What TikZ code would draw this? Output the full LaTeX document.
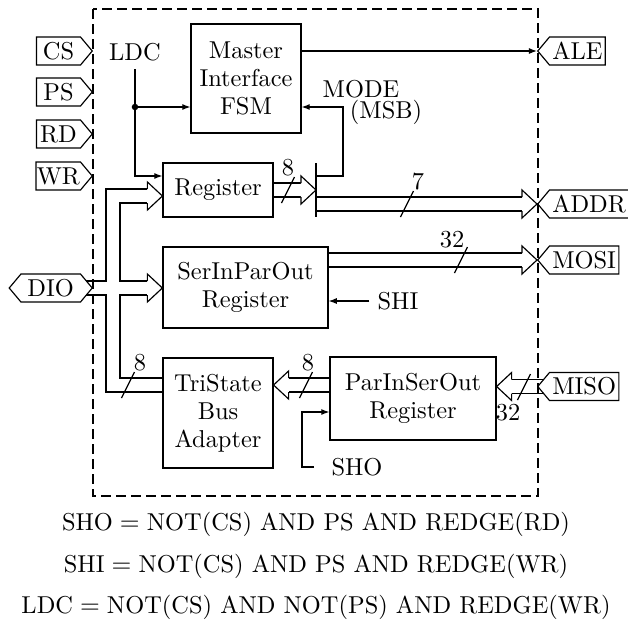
\documentclass[tikz,border=0pt]{standalone}
\usetikzlibrary{arrows.meta,shapes.symbols,backgrounds}

\tikzset{
  blk/.style={draw,fill=white,align=center,inner sep=1pt},
  intag/.style={draw,fill=white,signal,signal to=east,signal pointer angle=100,
    minimum height=12pt,minimum width=24pt,inner xsep=0.3pt,inner ysep=0pt,anchor=east},
  outtag/.style={intag,signal to=west,minimum width=0pt,inner xsep=1.2pt,anchor=west},
  modframe/.style={dash pattern=on 4.3pt off 2.15pt},
  bushead/.pic={\filldraw[fill=white] (-15,-7) -- (-15,-14) -- (0,0) -- (-15,14) -- (-15,7);}
}

\begin{document}
\begin{tikzpicture}[x=0.43pt,y=-0.43pt,line width=0.5pt,>={Latex[length=3.5pt,width=2.6pt]},
  font={\fontsize{10.5}{12}\selectfont}]
 \useasboundingbox (0,0) rectangle (628,622);
 % blocks
 \node[blk,minimum width=47.3pt,minimum height=46.9pt] (master) at (246,78.5) {Master\\Interface\\FSM};
 \node[blk,minimum width=47.3pt,minimum height=23.2pt] (reg) at (218,190) {Register};
 \node[blk,minimum width=71pt,minimum height=34.8pt] (sipo) at (245.5,287.5) {SerInParOut\\Register};
 \node[blk,minimum width=47.3pt,minimum height=47.3pt] (tsb) at (218,413) {TriState\\Bus\\Adapter};
 \node[blk,minimum width=71.4pt,minimum height=35.7pt] (piso) at (413,398.5) {ParInSerOut\\Register};
 % ports
 \node[intag] (cs) at (93,51) {CS};
 \node[intag] (ps) at (93,92) {PS};
 \node[intag] (rd) at (93,134) {RD};
 \node[intag] (wr) at (93,176) {WR};
 \node[intag,signal to=east and west,minimum width=35.7pt] (dio) at (93,288) {DIO};
 \node[outtag] (ale) at (537,51) {ALE};
 \node[outtag] (addr) at (537,204) {ADDR};
 \node[outtag] (mosi) at (537,260) {MOSI};
 \node[outtag] (miso) at (537,386.5) {MISO};
 % control signals
 \node (ldc) at (135,52) {LDC};
 \node[inner sep=0pt] (mode) at (361,89) {MODE};
 \node[inner sep=0pt] (msb) at (386,112) {(MSB)};
 \node (shi) at (398,301) {SHI};
 \node (sho) at (357,467) {SHO};
 \coordinate (ldcdot) at (135,107);
 \coordinate (bar) at (316,190);
 \draw[->] (ldc.south) |- (reg.west |- 0,176);
 \fill (ldcdot) circle (1.4pt);
 \draw[->] (ldcdot) -- (master.west |- ldcdot);
 \draw[->] (master.east |- ale.west) -- (ale.west);
 \draw (bar) ++(0,-27) -- ++(0,54);
 \draw[->] (bar) ++(0,-14) -| (343,107) -- (master.east |- 0,107);
 \draw[->] (shi.west) -- (sipo.east |- shi.west);
 \draw[->] (sho.west) ++(-9,0) -| (302,412) -- (piso.west |- 0,412);
 % buses
 \begin{scope}[on background layer,shorten >=6.45pt]
 \foreach \col/\w in {black/6.52pt,white/5.52pt} {
   \draw[\col,line width=\w] (tsb.west |- 0,385) -| (113,196) -- (reg.west |- 0,196);
   \draw[\col,line width=\w] (dio.center) -- (dio -| sipo.west);
   \draw[\col,line width=\w] (reg.east) -- (bar);
   \draw[\col,line width=\w] (bar |- addr) -- (addr.west);
   \draw[\col,line width=\w] (sipo.east |- mosi) -- (mosi.west);
   \draw[\col,line width=\w] (miso.center) -- (miso -| piso.east);
   \draw[\col,line width=\w] (piso.west |- 0,385) -- (tsb.east |- 0,385);
 }
 \end{scope}
 \pic at (reg.west |- 0,196) {bushead};
 \pic at (dio -| sipo.west) {bushead};
 \pic at (bar) {bushead};
 \pic at (addr.west) {bushead};
 \pic at (mosi.west) {bushead};
 \pic[rotate=180] at (miso -| piso.east) {bushead};
 \pic[rotate=180] at (tsb.east |- 0,385) {bushead};
 % bus widths
 \foreach \x/\y/\lx/\ly/\t [count=\i] in {288/190/288/168/8, 407/204/418/182/7, 461/260/452/240/32,
     128/385/140/363/8, 306/385/308/363/8, 524/387/508/413/32} {
   \draw (\x-6.5,\y+13) -- (\x+6.5,\y-13);
   \node (bw\i) at (\lx,\ly) {\t};
 }
 % module boundary
 \draw[modframe] (93,9) rectangle (538,496);
 % equations
 \node (eqsho) at (316,524) {SHO${}={}$NOT(CS) AND PS AND REDGE(RD)};
 \node (eqshi) at (316,566) {SHI${}={}$NOT(CS) AND PS AND REDGE(WR)};
 \node (eqldc) at (316,607) {LDC${}={}$NOT(CS) AND NOT(PS) AND REDGE(WR)};
\end{tikzpicture}
\end{document}
